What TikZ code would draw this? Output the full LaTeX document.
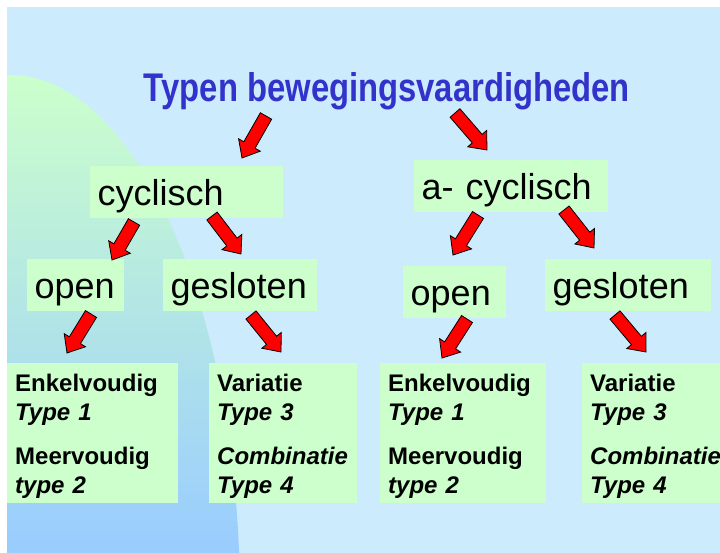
\documentclass[tikz,border=0pt]{standalone}
\usepackage{fontspec}
\setmainfont{Liberation Sans}
\newfontfamily\titlefont{Liberation Sans}[FakeStretch=0.82]
\usetikzlibrary{
		calc,
		positioning
	}
\definecolor{skyback}{RGB}{204,235,253}
\definecolor{boxgreen}{RGB}{204,255,204}
\definecolor{ballblue}{RGB}{153,204,255}
\definecolor{titleblue}{RGB}{51,51,204}
\tikzset{
		>=stealth,
		levelbox/.style={fill=boxgreen, anchor=north west, inner xsep=7.5pt, inner ysep=0pt,
			text height=39pt, text depth=13pt, align=left, font=\fontsize{36}{43}\selectfont},
		typebox/.style={fill=boxgreen, anchor=north west, inner xsep=8pt, inner ysep=0pt,
			text height=28pt, text depth=112pt, align=left, font=\fontsize{24}{29}\selectfont\bfseries},
		arrowfill/.style={fill=red, draw=black, line width=0.8pt, line join=miter}
	}
% red block arrow from tail #1 to tip #2
\newcommand{\redarrow}[2]{%
	\coordinate (neck) at ($(#2)!15pt!(#1)$);
	\filldraw[arrowfill] ($(#1)!6.5pt!90:(#2)$) -- ($(neck)!6.5pt!90:(#2)$) -- ($(neck)!12.5pt!90:(#2)$)
		-- (#2) -- ($(neck)!12.5pt!-90:(#2)$) -- ($(neck)!6.5pt!-90:(#2)$) -- ($(#1)!6.5pt!-90:(#2)$) -- cycle;
}

\begin{document}
\begin{tikzpicture}[x=1pt, y=-1pt]
\useasboundingbox (0,0) rectangle (720,553);
\clip (0,0) rectangle (720,553);
\fill[white] (0,0) rectangle (720,553);
\fill[skyback] (7,7) rectangle (720,553);
% the ball on the left
\begin{scope}
	\clip (7,7) rectangle (720,553);
	\clip (10,600) ellipse [x radius=230, y radius=525];
	\shade[top color=boxgreen, bottom color=ballblue] (0,75) rectangle (300,553);
\end{scope}

\node[font=\titlefont\bfseries\fontsize{40}{48}\selectfont, text=titleblue, anchor=base]
	(title) at (387,102) {Typen bewegingsvaardigheden};

\node[levelbox, text width=178pt] (cyc) at (90,166) {cyclisch};
\node[levelbox, text width=179pt] (acyc) at (414,160) {a- cyclisch};
\node[levelbox, text width=82pt] (open1) at (27,259) {open};
\node[levelbox, text width=139pt] (gesl1) at (163,259) {gesloten};
\node[levelbox, text width=88pt] (open2) at (403,266) {open};
\node[levelbox, text width=151pt] (gesl2) at (545,259) {gesloten};

\node[typebox, text width=155pt] (enk1) at (7,363)
	{Enkelvoudig\\\textit{Type 1}\\[15pt]Meervoudig\\\textit{type 2}};
\node[typebox, text width=132pt] (var1) at (209,363)
	{Variatie\\\textit{Type 3}\\[15pt]\textit{Combinatie}\\\textit{Type 4}};
\node[typebox, text width=150pt] (enk2) at (380,363)
	{Enkelvoudig\\\textit{Type 1}\\[15pt]Meervoudig\\\textit{type 2}};
\node[typebox, text width=132pt] (var2) at (582,363)
	{Variatie\\\textit{Type 3}\\[15pt]\textit{Combinatie}\\\textit{Type 4}};

% arrow ends
\coordinate (t1) at (266,116);  \coordinate (h1) at (242,158);
\coordinate (t2) at (455,113);  \coordinate (h2) at (487,150);
\coordinate (t3) at (134,222);  \coordinate (h3) at (112,260);
\coordinate (t4) at (212,216);  \coordinate (h4) at (241,254);
\coordinate (t5) at (478,215);  \coordinate (h5) at (453,255);
\coordinate (t6) at (564,210);  \coordinate (h6) at (594,248);
\coordinate (t7) at (91,314);   \coordinate (h7) at (67,353);
\coordinate (t8) at (251,315);  \coordinate (h8) at (281,352);
\coordinate (t9) at (467,319);  \coordinate (h9) at (442,358);
\coordinate (t10) at (615,315); \coordinate (h10) at (646,352);

\foreach \i in {1,...,10}
	\redarrow{t\i}{h\i};
\end{tikzpicture}
\end{document}
